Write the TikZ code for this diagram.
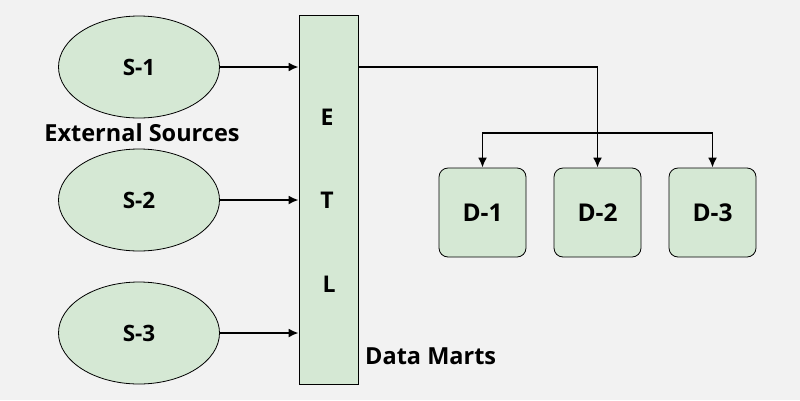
\documentclass[tikz,border=0pt]{standalone}
\usepackage{fontspec}
\setmainfont{Open Sans}
\usetikzlibrary{shapes.geometric,arrows.meta}
\begin{document}
\begin{tikzpicture}[x=1pt,y=-1pt]
\definecolor{color0}{HTML}{D5E8D4}
\definecolor{color1}{HTML}{F2F2F2}
\tikzset{
  src/.style={ellipse,draw,fill=color0,line width=0.8pt,minimum width=161pt,minimum height=102pt,inner sep=0pt,font=\fontsize{22.5}{26}\selectfont\bfseries},
  mart/.style={draw,fill=color0,line width=0.8pt,rounded corners=9pt,minimum width=87pt,minimum height=89pt,inner sep=0pt,font=\fontsize{24.5}{28}\selectfont\bfseries},
  letter/.style={font=\fontsize{23}{26}\selectfont\bfseries,inner sep=0pt},
  caption/.style={font=\fontsize{23.5}{27}\selectfont\bfseries,inner sep=0pt},
  conn/.style={line width=1.9pt,-{Latex[length=10pt,width=9pt]}}
}
\fill[color1] (0,0) rectangle (800,400);
% sources
\node[src] (s1) at (139,67) {S-1};
\node[src] (s2) at (139,200) {S-2};
\node[src] (s3) at (139,333) {S-3};
\node[caption] (ext) at (142,133) {External Sources};
% etl column
\node[draw,fill=color0,line width=0.8pt,minimum width=59pt,minimum height=369pt,inner sep=0pt] (etl) at (328.5,199.5) {};
\node[letter] (e) at (327,117) {E};
\node[letter] (t) at (327,200) {T};
\node[letter] (l) at (329,284) {L};
\node[caption,anchor=west] (marts) at (365,356) {Data Marts};
% data marts
\node[mart] (d1) at (482.5,212.5) {D-1};
\node[mart] (d2) at (597.5,212.5) {D-2};
\node[mart] (d3) at (712.5,212.5) {D-3};
% connectors
\draw[conn] (s1.east) -- (s1.east -| etl.west);
\draw[conn] (s2.east) -- (s2.east -| etl.west);
\draw[conn] (s3.east) -- (s3.east -| etl.west);
\draw[conn] (s1.east -| etl.east) -| (d2.north);
\draw[conn,{Latex[length=10pt,width=9pt]}-{Latex[length=10pt,width=9pt]}] (d1.north) |- ([yshift=35pt]d2.north) -| (d3.north);
\end{tikzpicture}
\end{document}
